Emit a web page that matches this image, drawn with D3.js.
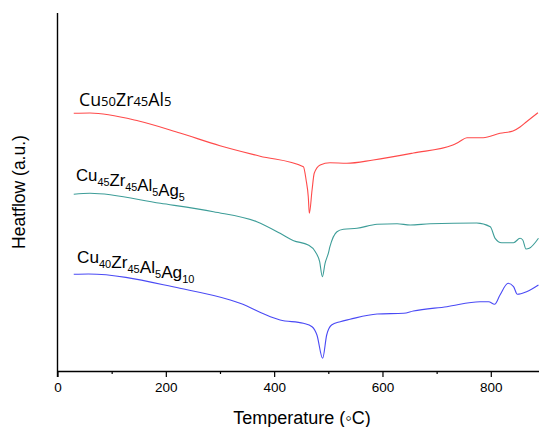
<!DOCTYPE html>
<html>
<head>
<meta charset="utf-8">
<script src="https://cdn.jsdelivr.net/npm/d3@7"></script>
<style>
  html, body { margin: 0; padding: 0; background: #fff; }
  svg { display: block; }
</style>
</head>
<body>
<svg id="chart" width="539" height="427"></svg>
<script>
// DSC heat-flow traces (temperature in °C, heat flow in arbitrary units)
const tempCu50 = [30, 60, 150, 226, 300, 374, 454, 459, 463, 465, 470, 474, 485, 503, 534, 583, 657, 730, 741, 756, 786, 817, 841, 854, 866, 887];
const flowCu50 = [257.7, 258, 250, 238, 225.3, 214.8, 204.3, 191, 174.3, 157.7, 181, 197.7, 206, 208.3, 207.7, 211, 218, 226, 229, 233.3, 233.3, 237.7, 240, 244, 249.3, 258.3];

const tempAg5 = [30, 60, 190, 288, 368, 411, 436, 463, 476, 484, 489, 494, 500, 503, 516, 528, 553, 590, 627, 651, 688, 774, 799, 808, 820, 842, 854, 859, 865, 871, 888];
const flowAg5 = [176.7, 177.7, 167.7, 159.3, 149.3, 137.7, 130.3, 126, 119.3, 109.3, 94.3, 107.7, 117.7, 124.3, 139.3, 141.7, 142.7, 146.7, 147.3, 146, 147.3, 148, 144.3, 132.7, 128.3, 128.3, 132.7, 131, 122, 122.7, 132.7];

const tempAg10 = [30, 57, 226, 319, 337, 393, 411, 454, 470, 479, 489.5, 497, 506, 522, 540, 590, 639, 657, 719, 780, 796, 807, 817, 832, 842, 849, 866, 888];
const flowAg10 = [96.7, 97, 82.7, 71, 67.7, 54.3, 51, 47.7, 44.3, 36, 12.7, 36, 46, 49.3, 51.7, 57, 57.7, 60, 64.3, 69.3, 69.3, 66.7, 76, 87.7, 84.3, 76.7, 79.3, 86];

const seriesColors = ["#ff4a4a", "#3d9d98", "#4a4af5"];

const xTicksMajor = [0, 200, 400, 600, 800];
const xTicksMinor = [100, 300, 500, 700];

const svg = d3.select("#chart");
const x = d3.scaleLinear().domain([0, 889]).range([57.5, 539]);
const y = d3.scaleLinear().domain([0, 358]).range([371, 13]);

const series = [
  { t: tempCu50, f: flowCu50 },
  { t: tempAg5, f: flowAg5 },
  { t: tempAg10, f: flowAg10 }
];

const line = d3.line()
  .x(d => x(d[0]))
  .y(d => y(d[1]))
  .curve(d3.curveMonotoneX);

series.forEach((s, i) => {
  svg.append("path")
    .datum(s.t.map((t, k) => [t, s.f[k]]))
    .attr("d", line)
    .attr("fill", "none")
    .attr("stroke", seriesColors[i])
    .attr("stroke-width", 1.1);
});

// x axis with major and minor ticks
const axisFont = "'Liberation Sans', Arial, sans-serif";
svg.append("g")
  .attr("transform", `translate(0,${y(0)})`)
  .call(d3.axisBottom(x).tickValues(xTicksMinor).tickSize(3).tickFormat(""))
  .call(g => g.select(".domain").remove())
  .call(g => g.selectAll("line").attr("stroke", "#000").attr("stroke-width", 1.2));

svg.append("g")
  .attr("transform", `translate(0,${y(0)})`)
  .call(d3.axisBottom(x).tickValues(xTicksMajor).tickSize(6).tickSizeOuter(0).tickPadding(5))
  .call(g => g.select(".domain").attr("stroke", "#000").attr("stroke-width", 1.4))
  .call(g => g.selectAll("line").attr("stroke", "#000").attr("stroke-width", 1.2))
  .call(g => g.selectAll("text").attr("font-family", axisFont).attr("font-size", 13.5).attr("fill", "#000"));

// y axis: plain line, no ticks
svg.append("line")
  .attr("x1", x(0)).attr("x2", x(0))
  .attr("y1", y(358)).attr("y2", y(0) + 6)
  .attr("stroke", "#000").attr("stroke-width", 1.4);

// axis titles
svg.append("text")
  .attr("x", 302).attr("y", 424)
  .attr("text-anchor", "middle")
  .attr("font-family", axisFont).attr("font-size", 18)
  .text("Temperature (\u25E6C)");

svg.append("text")
  .attr("transform", "translate(25,192) rotate(-90)")
  .attr("text-anchor", "middle")
  .attr("font-family", axisFont).attr("font-size", 17.5)
  .text("Heatflow (a.u.)");

// series labels with chemical subscripts
function formula(xp, yp, parts, opts) {
  const t = svg.append("text")
    .attr("x", xp).attr("y", yp)
    .attr("font-family", opts.font)
    .attr("font-size", opts.size)
    .attr("fill", "#000");
  parts.forEach(([txt, sub]) => {
    t.append("tspan").text(txt);
    t.append("tspan")
      .attr("font-size", opts.subSize)
      .attr("dy", opts.shift)
      .text(sub);
    if (opts.shift) t.append("tspan").attr("dy", -opts.shift).text("");
  });
}

formula(79, 105.5, [["Cu", "50"], ["Zr", "45"], ["Al", "5"]],
  { font: "'Open Sans', sans-serif", size: 17.8, subSize: 13, shift: 0 });
formula(76, 181, [["Cu", "45"], ["Zr", "45"], ["Al", "5"], ["Ag", "5"]],
  { font: axisFont, size: 16.8, subSize: 10.8, shift: 5 });
formula(77, 263, [["Cu", "40"], ["Zr", "45"], ["Al", "5"], ["Ag", "10"]],
  { font: axisFont, size: 17.2, subSize: 11, shift: 5 });
</script>
</body>
</html>
